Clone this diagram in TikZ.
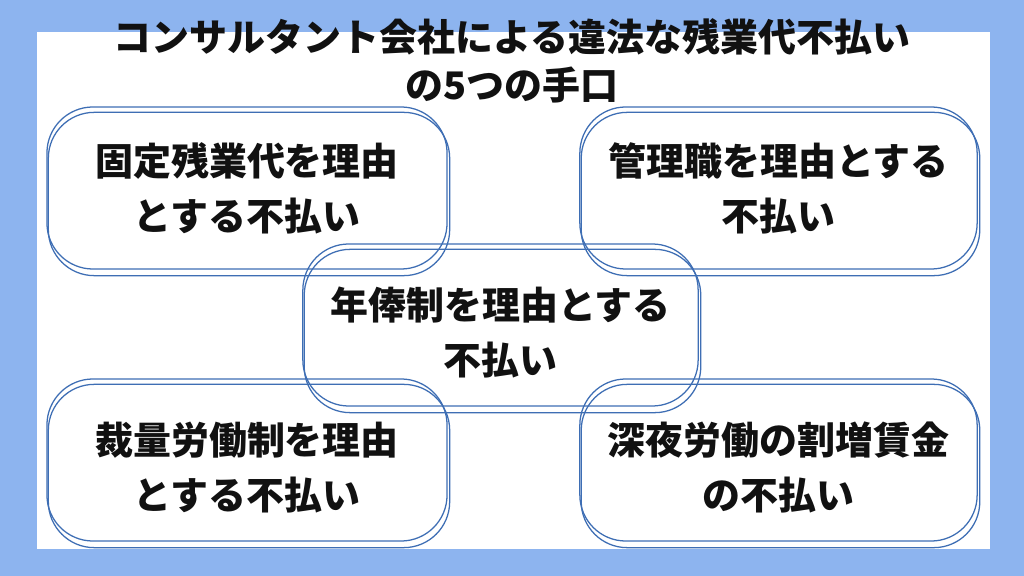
\documentclass[tikz,border=0pt]{standalone}
\usepackage{fontspec}
\usepackage{tikz}
\usetikzlibrary{calc}
\newfontfamily\jpfont{Noto Sans CJK JP}
\definecolor{skyback}{HTML}{8DB4EF}
\definecolor{paper}{HTML}{FFFFFF}
\definecolor{ink}{HTML}{111111}
\definecolor{boxline}{HTML}{3E6EB4}
\tikzset{
  titletext/.style={align=center,font=\jpfont\bfseries\fontsize{27pt}{34pt}\selectfont,text=ink,inner sep=0pt},
  casebox/.style={draw=boxline,line width=0.9pt,rounded corners=1.15cm,align=center,inner sep=0pt,
    minimum height=4.05cm,font=\jpfont\bfseries\fontsize{27pt}{39pt}\selectfont,text=ink},
  lowtext/.style={text height=73pt},
  echoline/.style={draw=boxline,line width=0.9pt,rounded corners=1.15cm}
}
\begin{document}
\begin{tikzpicture}[x=0.025cm,y=-0.025cm]
  \fill[skyback] (0,0) rectangle (1024,576);
  \fill[paper] (37,32) rectangle (990,549);
  \useasboundingbox (0,0) rectangle (1024,576);

  \node[titletext] (title) at (512,61) {コンサルタント会社による違法な残業代不払い\\の5つの手口};

  \node[casebox,minimum width=10cm] (fixed) at (247,188) {固定残業代を理由\\とする不払い};
  \node[casebox,minimum width=9.93cm] (manager) at (778.5,188) {管理職を理由とする\\不払い};
  \node[casebox,lowtext,minimum width=9.88cm] (annual) at (500.5,325) {年俸制を理由とする\\不払い};
  \node[casebox,lowtext,minimum width=10cm] (discretion) at (247,460) {裁量労働制を理由\\とする不払い};
  \node[casebox,lowtext,minimum width=9.93cm] (night) at (778.5,460) {深夜労働の割増賃金\\の不払い};

  % second, slightly shifted outline of every box
  \foreach \b in {fixed,manager,annual,discretion,night}
    \draw[echoline] ($(\b.north west)+(2,6)$) rectangle ($(\b.south east)+(2,6)$);
\end{tikzpicture}
\end{document}
